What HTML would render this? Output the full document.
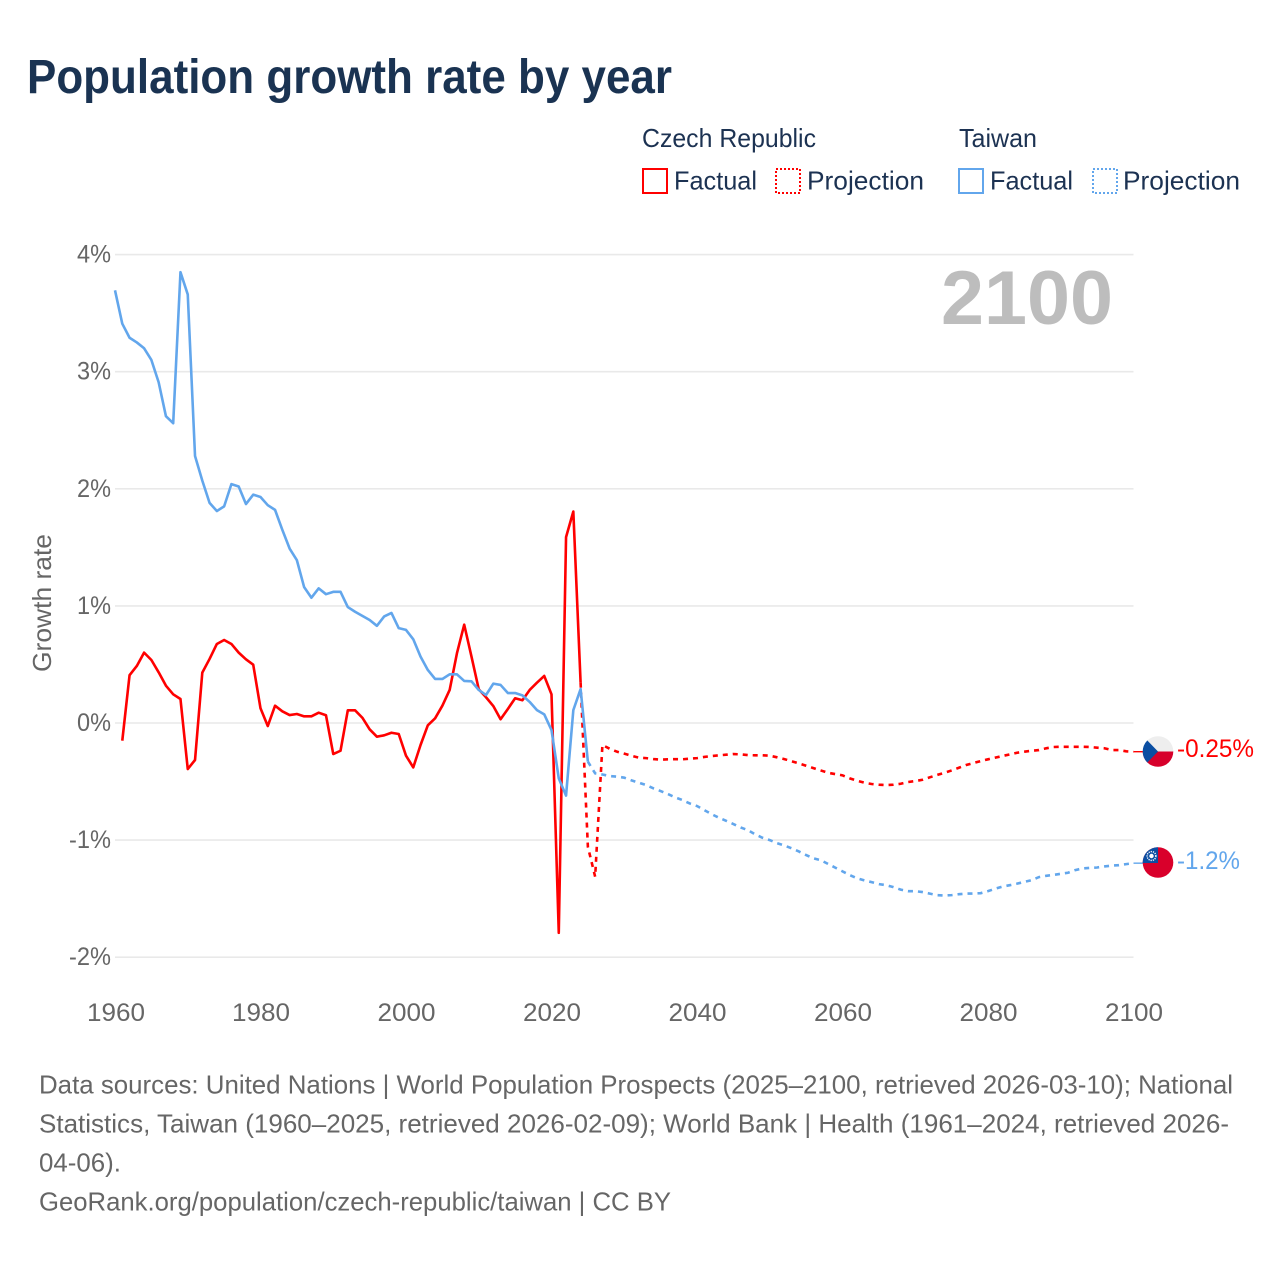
<!DOCTYPE html>
<html lang="en">
<head>
<meta charset="utf-8">
<title>Population growth rate by year</title>
<style>
html,body{margin:0;padding:0;background:#fff;}
svg{display:block;font-family:"Liberation Sans",sans-serif;}
</style>
</head>
<body>
<svg id="chart" xmlns="http://www.w3.org/2000/svg" width="1280" height="1280" viewBox="0 0 1280 1280">
  <rect width="1280" height="1280" fill="#fff"/>
  <text x="27" y="93" font-size="48" font-weight="700" fill="#1a3352" textLength="645" lengthAdjust="spacingAndGlyphs">Population growth rate by year</text>

  <g font-size="26" fill="#1c3252">
    <text x="642" y="147" textLength="174" lengthAdjust="spacingAndGlyphs">Czech Republic</text>
    <text x="959" y="147" textLength="78" lengthAdjust="spacingAndGlyphs">Taiwan</text>
    <rect x="643" y="169" width="24" height="24" fill="none" stroke="#ff0000" stroke-width="2"/>
    <text x="674" y="189.500" textLength="83" lengthAdjust="spacingAndGlyphs">Factual</text>
    <rect x="776" y="169" width="24" height="24" fill="none" stroke="#ff0000" stroke-width="2" stroke-dasharray="2 2"/>
    <text x="807" y="189.500" textLength="117" lengthAdjust="spacingAndGlyphs">Projection</text>
    <rect x="959" y="169" width="24" height="24" fill="none" stroke="#62a6ec" stroke-width="2"/>
    <text x="990" y="189.500" textLength="83" lengthAdjust="spacingAndGlyphs">Factual</text>
    <rect x="1093" y="169" width="24" height="24" fill="none" stroke="#62a6ec" stroke-width="2" stroke-dasharray="2 2"/>
    <text x="1123" y="189.500" textLength="117" lengthAdjust="spacingAndGlyphs">Projection</text>
  </g>

  <g id="grid"></g>
  <g id="yticks" font-size="25" fill="#666"></g>
  <g id="xticks" font-size="25" fill="#666"></g>
  <text transform="translate(51,603) rotate(-90)" text-anchor="middle" font-size="26" fill="#666" textLength="138" lengthAdjust="spacingAndGlyphs">Growth rate</text>
  <text x="941" y="324" font-size="76" font-weight="700" fill="#bdbdbd" textLength="172" lengthAdjust="spacingAndGlyphs">2100</text>

  <g id="series"></g>

  <g>
    <clipPath id="czClip"><circle cx="1158" cy="751.5" r="15.3"/></clipPath>
    <g clip-path="url(#czClip)">
      <rect x="1142" y="736" width="32" height="15.5" fill="#eeeeee"/>
      <rect x="1142" y="751.5" width="32" height="16" fill="#d7002b"/>
      <polygon points="1142,735 1158,751.5 1142,768" fill="#0b4ea2"/>
    </g>
  </g>
  <text id="czLabel" x="1177" y="757" font-size="25" fill="#ff0000" textLength="77" lengthAdjust="spacingAndGlyphs">-0.25%</text>
  <g>
    <clipPath id="twClip"><circle cx="1158" cy="862.500" r="15.3"/></clipPath>
    <g clip-path="url(#twClip)">
      <rect x="1142" y="847" width="32" height="32" fill="#d9002b"/>
      <rect x="1142" y="847" width="16" height="16" fill="#0b4ea2"/>
      <circle cx="1151.5" cy="856" r="4.4" fill="none" stroke="#fff" stroke-width="1.4" stroke-dasharray="1.2 1"/>
      <circle cx="1151.5" cy="856" r="2.2" fill="#fff"/>
    </g>
  </g>
  <text id="twLabel" x="1177" y="869" font-size="25" fill="#62a6ec" textLength="63" lengthAdjust="spacingAndGlyphs">-1.2%</text>

  <g font-size="26" fill="#666">
    <text x="39" y="1093.500" textLength="1194" lengthAdjust="spacingAndGlyphs">Data sources: United Nations | World Population Prospects (2025–2100, retrieved 2026-03-10); National</text>
    <text x="39" y="1132.500" textLength="1190" lengthAdjust="spacingAndGlyphs">Statistics, Taiwan (1960–2025, retrieved 2026-02-09); World Bank | Health (1961–2024, retrieved 2026-</text>
    <text x="39" y="1171.500" textLength="82" lengthAdjust="spacingAndGlyphs">04-06).</text>
    <text x="39" y="1210.500" textLength="632" lengthAdjust="spacingAndGlyphs">GeoRank.org/population/czech-republic/taiwan | CC BY</text>
  </g>
</svg>
<script>
var yTickValues = [4, 3, 2, 1, 0, -1, -2];
var xTickYears = [1960, 1980, 2000, 2020, 2040, 2060, 2080, 2100];

var czechFactualStart = 1961;
var czechFactual = [-0.151, 0.408, 0.487, 0.601, 0.538, 0.433, 0.319, 0.245, 0.205, -0.393,
  -0.316, 0.43, 0.547, 0.675, 0.709, 0.675, 0.601, 0.544, 0.498, 0.126,
  -0.026, 0.148, 0.1, 0.068, 0.077, 0.057, 0.057, 0.088, 0.066, -0.265,
  -0.237, 0.108, 0.108, 0.045, -0.054, -0.117, -0.105, -0.083, -0.094, -0.279,
  -0.379, -0.188, -0.02, 0.04, 0.148, 0.282, 0.595, 0.84, 0.567, 0.288,
  0.22, 0.145, 0.032, 0.12, 0.211, 0.194, 0.282, 0.344, 0.402, 0.245,
  -1.792, 1.587, 1.806, 0.344];

var czechProjectionStart = 2024;
var czechProjection = [0.344, -1.057, -1.313, -0.188, -0.22, -0.245, -0.262, -0.28, -0.296, -0.3,
  -0.308, -0.313, -0.31, -0.309, -0.31, -0.305, -0.3, -0.29, -0.282, -0.276,
  -0.271, -0.265, -0.268, -0.274, -0.276, -0.276, -0.279, -0.293, -0.308, -0.327,
  -0.345, -0.365, -0.385, -0.405, -0.425, -0.436, -0.447, -0.473, -0.493, -0.51,
  -0.521, -0.527, -0.53, -0.527, -0.519, -0.504, -0.496, -0.485, -0.464, -0.444,
  -0.425, -0.405, -0.382, -0.359, -0.342, -0.325, -0.31, -0.296, -0.282, -0.268,
  -0.254, -0.245, -0.237, -0.231, -0.216, -0.205, -0.203, -0.203, -0.203, -0.203,
  -0.205, -0.211, -0.216, -0.231, -0.231, -0.242, -0.245];

var taiwanFactualStart = 1960;
var taiwanFactual = [3.695, 3.41, 3.29, 3.25, 3.2, 3.1, 2.91, 2.62, 2.56, 3.85,
  3.66, 2.28, 2.07, 1.88, 1.81, 1.85, 2.04, 2.02, 1.87, 1.95,
  1.93, 1.86, 1.82, 1.65, 1.49, 1.39, 1.16, 1.07, 1.15, 1.1,
  1.12, 1.12, 0.99, 0.95, 0.915, 0.88, 0.83, 0.91, 0.94, 0.81,
  0.795, 0.715, 0.567, 0.453, 0.376, 0.376, 0.416, 0.416, 0.359, 0.356,
  0.282, 0.239, 0.336, 0.325, 0.256, 0.256, 0.236, 0.18, 0.11, 0.074,
  -0.06, -0.473, -0.62, 0.11, 0.29, -0.33];

var taiwanProjectionStart = 2025;
var taiwanProjection = [-0.33, -0.43, -0.44, -0.453, -0.458, -0.467, -0.49, -0.51, -0.53, -0.558,
  -0.581, -0.607, -0.635, -0.658, -0.687, -0.709, -0.744, -0.778, -0.809, -0.835,
  -0.863, -0.892, -0.915, -0.951, -0.98, -1.0, -1.026, -1.046, -1.07, -1.097,
  -1.128, -1.156, -1.171, -1.203, -1.235, -1.267, -1.299, -1.326, -1.344, -1.359,
  -1.376, -1.385, -1.402, -1.423, -1.436, -1.436, -1.444, -1.457, -1.47, -1.473,
  -1.47, -1.462, -1.457, -1.456, -1.453, -1.436, -1.415, -1.397, -1.385, -1.372,
  -1.357, -1.342, -1.316, -1.305, -1.297, -1.288, -1.279, -1.256, -1.242, -1.237,
  -1.234, -1.225, -1.218, -1.214, -1.205, -1.197];

var SVGNS = 'http://www.w3.org/2000/svg';
function xScale(year) { return 115 + (year - 1960) * (1133.5 - 115) / 140; }
function yScale(v) { return 723 - v * 117.1; }
function make(tag, parent) {
  var el = document.createElementNS(SVGNS, tag);
  parent.appendChild(el);
  return el;
}

var gridGroup = document.getElementById('grid');
var yGroup = document.getElementById('yticks');
yTickValues.forEach(function (v) {
  var line = make('line', gridGroup);
  
  
  line.setAttribute('x1', 115);
  line.setAttribute('x2', 1133.5);
  line.setAttribute('y1', yScale(v));
  line.setAttribute('y2', yScale(v));
  line.setAttribute('stroke', '#e9e9e9');
  line.setAttribute('stroke-width', 1.6);
  var label = make('text', yGroup);
  
  
  label.setAttribute('x', 111);
  label.setAttribute('y', yScale(v) + 8);
  label.setAttribute('text-anchor', 'end');
  label.setAttribute('textLength', v < 0 ? 42 : 34);
  label.setAttribute('lengthAdjust', 'spacingAndGlyphs');
  label.textContent = v + '%';
});

var xGroup = document.getElementById('xticks');
xTickYears.forEach(function (yr) {
  var label = make('text', xGroup);
  
  
  label.setAttribute('x', xScale(yr) + (yr === 1960 ? 1 : 0.5));
  label.setAttribute('y', 1021);
  label.setAttribute('text-anchor', 'middle');
  label.setAttribute('textLength', 58);
  label.setAttribute('lengthAdjust', 'spacingAndGlyphs');
  label.textContent = String(yr);
});

function pointsFor(start, values) {
  return values.map(function (v, i) {
    return xScale(start + i).toFixed(2) + ',' + yScale(v).toFixed(2);
  }).join(' ');
}

var seriesGroup = document.getElementById('series');

var czechProjLine = make('polyline', seriesGroup);


czechProjLine.setAttribute('points', pointsFor(czechProjectionStart, czechProjection));
czechProjLine.setAttribute('fill', 'none');
czechProjLine.setAttribute('stroke', '#ff0000');
czechProjLine.setAttribute('stroke-width', 2.6);
czechProjLine.setAttribute('stroke-dasharray', '5 5');

var taiwanProjLine = make('polyline', seriesGroup);


taiwanProjLine.setAttribute('points', pointsFor(taiwanProjectionStart, taiwanProjection));
taiwanProjLine.setAttribute('fill', 'none');
taiwanProjLine.setAttribute('stroke', '#62a6ec');
taiwanProjLine.setAttribute('stroke-width', 2.6);
taiwanProjLine.setAttribute('stroke-dasharray', '5 5');

var czechConnector = make('line', seriesGroup);


czechConnector.setAttribute('x1', xScale(2100));
czechConnector.setAttribute('x2', xScale(2100) + 10);
czechConnector.setAttribute('y1', yScale(czechProjection[czechProjection.length - 1]));
czechConnector.setAttribute('y2', yScale(czechProjection[czechProjection.length - 1]));
czechConnector.setAttribute('stroke', '#ff0000');
czechConnector.setAttribute('stroke-width', 1.4);

var taiwanConnector = make('line', seriesGroup);


taiwanConnector.setAttribute('x1', xScale(2100));
taiwanConnector.setAttribute('x2', xScale(2100) + 10);
taiwanConnector.setAttribute('y1', yScale(taiwanProjection[taiwanProjection.length - 1]));
taiwanConnector.setAttribute('y2', yScale(taiwanProjection[taiwanProjection.length - 1]));
taiwanConnector.setAttribute('stroke', '#62a6ec');
taiwanConnector.setAttribute('stroke-width', 1.4);

var czechLine = make('polyline', seriesGroup);


czechLine.setAttribute('points', pointsFor(czechFactualStart, czechFactual));
czechLine.setAttribute('fill', 'none');
czechLine.setAttribute('stroke', '#ff0000');
czechLine.setAttribute('stroke-width', 2.6);
czechLine.setAttribute('stroke-linejoin', 'round');

var taiwanLine = make('polyline', seriesGroup);


taiwanLine.setAttribute('points', pointsFor(taiwanFactualStart, taiwanFactual));
taiwanLine.setAttribute('fill', 'none');
taiwanLine.setAttribute('stroke', '#62a6ec');
taiwanLine.setAttribute('stroke-width', 2.6);
taiwanLine.setAttribute('stroke-linejoin', 'round');
</script>
</body>
</html>
